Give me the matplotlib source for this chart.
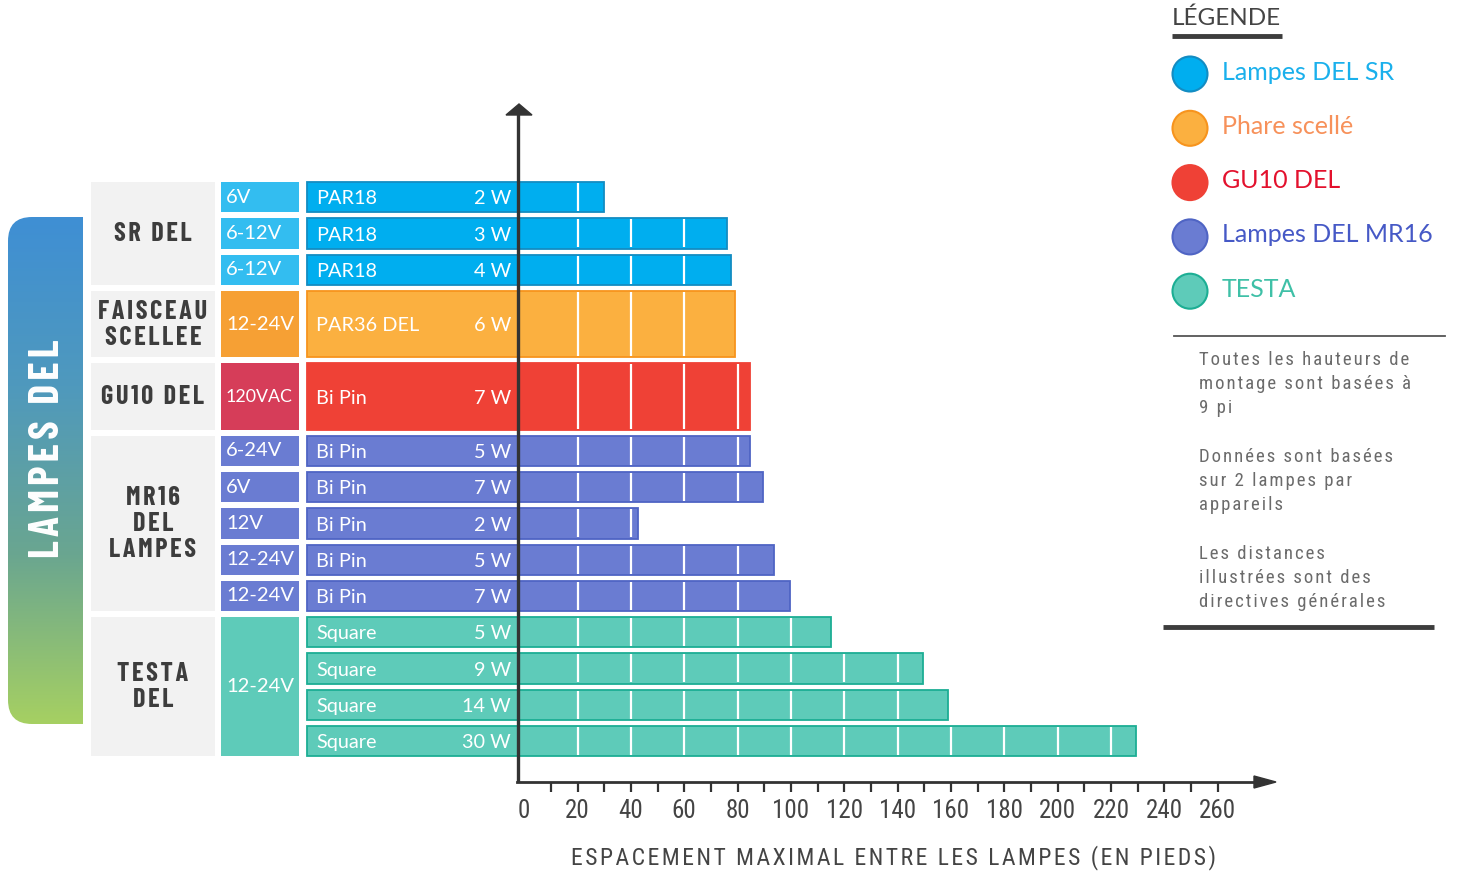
import numpy as np
import matplotlib.pyplot as plt
from matplotlib.patches import Rectangle, FancyBboxPatch, Circle, Polygon
from matplotlib.colors import LinearSegmentedColormap

W, H = 1457, 873

# ---- données ----
groupes = ["SR DEL", "FAISCEAU\nSCELLEE", "GU10 DEL", "MR16\nDEL\nLAMPES", "TESTA\nDEL"]
lignes_par_groupe = [3, 1, 1, 5, 4]
tension_fusion = [False, False, False, False, True]
types = ["PAR18", "PAR18", "PAR18", "PAR36 DEL", "Bi Pin", "Bi Pin", "Bi Pin",
         "Bi Pin", "Bi Pin", "Bi Pin", "Square", "Square", "Square", "Square"]
puissances = ["2 W", "3 W", "4 W", "6 W", "7 W", "5 W", "7 W", "2 W", "5 W",
              "7 W", "5 W", "9 W", "14 W", "30 W"]
tensions = ["6V", "6-12V", "6-12V", "12-24V", "120VAC", "6-24V", "6V", "12V",
            "12-24V", "12-24V", "12-24V", "12-24V", "12-24V", "12-24V"]
espacement = [30, 76, 77.5, 79, 84.5, 84.5, 89.5, 42.5, 93.5, 99.5, 115, 149.5, 159, 229.5]
hauteur_ligne = [1, 1, 1, 2, 2, 1, 1, 1, 1, 1, 1, 1, 1, 1]
graduations = list(range(0, 261, 20))
legende = ["Lampes DEL SR", "Phare scellé", "GU10 DEL", "Lampes DEL MR16", "TESTA"]
notes = [["Toutes les hauteurs de", "montage sont basées à", "9 pi"],
         ["Données sont basées", "sur 2 lampes par", "appareils"],
         ["Les distances", "illustrées sont des", "directives générales"]]

# couleurs par groupe
c_barre = ["#00aeef", "#fbb040", "#ef4136", "#6a7cd2", "#5ecbb9"]
c_bord = ["#138cc2", "#f7941d", "#ef4136", "#4f64c4", "#1cae94"]
c_tension = ["#33bdf0", "#f6a034", "#d63d59", "#6a7cd2", "#5ecbb9"]
c_leg_texte = ["#1ab0ec", "#f7915a", "#e3112d", "#4659c6", "#3fc0a7"]

NARROW = ["Roboto Condensed", "DejaVu Sans"]
TITRE = ["Barlow Condensed", "DejaVu Sans"]
SANS = ["Lato", "DejaVu Sans"]


def espacer(s, n=1):
    return ("\u200a" * n).join(s)


# conversion pixels -> unités des axes
PX0, PPU = 524.2, 2.667
PY0, SLOT = 179, 36.25


def fx(px):
    return (px - PX0) / PPU


def fy(py):
    return (py - PY0) / SLOT


fig = plt.figure(figsize=(W / 100, H / 100), dpi=100)
ax = fig.add_axes([0, 0, 1, 1])
ax.set_xlim(fx(0), fx(W))
ax.set_ylim(fy(H), fy(0))
ax.axis("off")

PAD = 3 / SLOT
DY = 0.05  # petit décalage vertical du texte
BAR_LEFT = fx(307)
TXT_LEFT = fx(316)
W_RIGHT = fx(511)
V_LEFT, V_RIGHT = fx(221), fx(299)
G_LEFT, G_RIGHT = fx(91), fx(215)

# groupe de chaque ligne
grp_idx = np.repeat(np.arange(len(groupes)), lignes_par_groupe)
debut = np.concatenate([[0], np.cumsum(hauteur_ligne)[:-1]])
centres = debut + np.array(hauteur_ligne) / 2
hauteurs = np.array(hauteur_ligne) - 2 * PAD

for i in range(len(types)):
    g = grp_idx[i]
    ax.barh(centres[i], espacement[i] - BAR_LEFT, left=BAR_LEFT, height=hauteurs[i],
            color=c_barre[g], edgecolor=c_bord[g], linewidth=1.3, zorder=2)
    grid = np.arange(20, espacement[i], 20)
    ax.vlines(grid, centres[i] - hauteurs[i] / 2 + 0.03, centres[i] + hauteurs[i] / 2 - 0.03,
              color="white", lw=1.6, zorder=3)
    ax.text(TXT_LEFT, centres[i] + DY, types[i], color="white", fontsize=14.3, family=SANS,
            ha="left", va="center", zorder=4)
    ax.text(W_RIGHT, centres[i] + DY, puissances[i], color="white", fontsize=14.3, family=SANS,
            ha="right", va="center", zorder=4)

# boites de tension et de groupe
ligne = 0
for g, n in enumerate(lignes_par_groupe):
    rows = list(range(ligne, ligne + n))
    g_top = debut[rows[0]] + PAD
    g_bot = debut[rows[-1]] + hauteur_ligne[rows[-1]] - PAD
    ax.add_patch(Rectangle((G_LEFT, g_top), G_RIGHT - G_LEFT, g_bot - g_top,
                           color="#f2f2f2", lw=0, zorder=1))
    lignes_txt = [espacer(t, 1) for t in groupes[g].split("\n")]
    ax.text(fx(153), (g_top + g_bot) / 2 + 0.02, "\n".join(lignes_txt),
            ha="center", va="center", fontsize=19, family=TITRE, fontweight="bold",
            color="#3d3d3d", linespacing=1.12, zorder=4)
    if tension_fusion[g]:
        ax.add_patch(Rectangle((V_LEFT, g_top), V_RIGHT - V_LEFT, g_bot - g_top,
                               color=c_tension[g], lw=0, zorder=1))
        ax.text(fx(226), (g_top + g_bot) / 2, tensions[rows[0]], color="white",
                fontsize=14.5, family=SANS, ha="left", va="center", zorder=4)
    else:
        for r in rows:
            ax.add_patch(Rectangle((V_LEFT, centres[r] - hauteurs[r] / 2), V_RIGHT - V_LEFT,
                                   hauteurs[r], color=c_tension[g], lw=0, zorder=1))
            fs = 12.8 if tensions[r].endswith("AC") else 14.5
            ax.text(fx(226), centres[r], tensions[r], color="white", fontsize=fs,
                    family=SANS, ha="left", va="center", zorder=4)
    ligne += n

# axes avec flèches
AX_X = fx(518.5)
AX_Y = fy(782)
ax.plot([AX_X, AX_X], [AX_Y, fy(112)], color="#333333", lw=2.4, zorder=6,
        solid_capstyle="butt")
ax.add_patch(Polygon([[fx(506), fy(115)], [fx(532), fy(115)], [fx(519), fy(104)]],
                     closed=True, color="#333333", zorder=6))
ax.plot([AX_X - 0.5, fx(1258)], [AX_Y, AX_Y], color="#333333", lw=2.0, zorder=6)
ax.add_patch(Polygon([[fx(1254), fy(776)], [fx(1254), fy(788)], [fx(1276), fy(782)]],
                     closed=True, color="#333333", zorder=6))
petites = np.arange(10, 261, 10)
ax.vlines(petites, AX_Y, fy(792), color="#333333", lw=1.6, zorder=6)
for t in graduations:
    ax.text(t, fy(811), str(t), ha="center", va="center", fontsize=18,
            family=NARROW, color="#444444")
ax.text(fx(894), fy(858), espacer("ESPACEMENT MAXIMAL ENTRE LES LAMPES (EN PIEDS)", 1),
        ha="center", va="center", fontsize=17, family=NARROW, color="#444444")

# ---- calque en pixels pour décor, légende, notes ----
ov = fig.add_axes([0, 0, 1, 1])
ov.set_xlim(0, W)
ov.set_ylim(H, 0)
ov.axis("off")
ov.patch.set_visible(False)

cmap = LinearSegmentedColormap.from_list("g", ["#3f8fd4", "#4f99bd", "#6aa690", "#a6d062"])
grad = np.linspace(0, 1, 256).reshape(-1, 1)
im = ov.imshow(grad, cmap=cmap, extent=(8, 83, 724, 217), aspect="auto", zorder=1)
clip = FancyBboxPatch((8, 217), 110, 507, boxstyle="round,pad=0,rounding_size=24",
                      transform=ov.transData, facecolor="none", edgecolor="none")
im.set_clip_path(clip)
ov.text(48, 449, espacer("LAMPES DEL", 1), rotation=90,
        ha="center", va="center", color="white", fontsize=30, family=TITRE,
        fontweight="bold")

# légende
ov.text(1172, 18, "LÉGENDE", ha="left", va="center", fontsize=17.5, family=SANS,
        color="#444444")
ov.plot([1172, 1282], [36, 36], color="#3d3d3d", lw=3.5, solid_capstyle="butt")
for k, lab in enumerate(legende):
    yc = 74 + k * 54.3
    ov.add_patch(Circle((1190, yc), 17.5, facecolor=c_barre[k], edgecolor=c_bord[k], lw=1.5))
    ov.text(1222, yc - 2, lab, ha="left", va="center", fontsize=18, family=SANS,
            color=c_leg_texte[k])

ov.plot([1174, 1445], [336, 336], color="#555555", lw=1.3)
for b, bloc in enumerate(notes):
    for l, txt in enumerate(bloc):
        ov.text(1199, 360 + b * 97 + l * 24, espacer(txt, 1), ha="left", va="center",
                fontsize=13.5, family=NARROW, color="#6b6b6b")
ov.plot([1163, 1434], [627, 627], color="#3d3d3d", lw=3.5, solid_capstyle="butt")

fig.savefig("out.png", dpi=100)
